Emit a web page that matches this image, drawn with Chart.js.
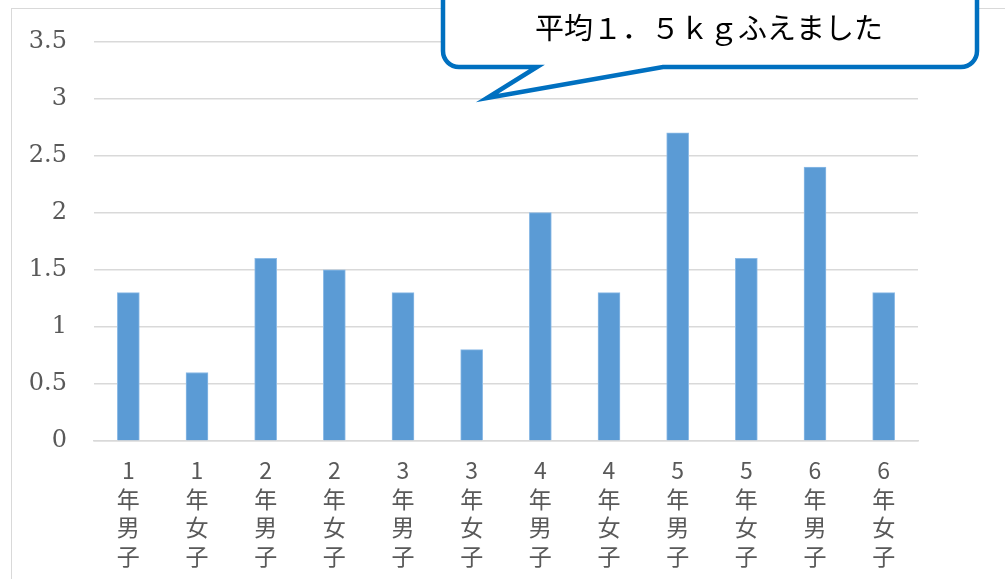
<!DOCTYPE html>
<html><head><meta charset="utf-8">
<script src="https://cdn.jsdelivr.net/npm/chart.js@4/dist/chart.umd.min.js"></script>
<style>html,body{margin:0;padding:0;background:#fff;overflow:hidden}#wrap{width:1005px;height:579px;position:relative}</style>
</head><body><div id="wrap"><canvas id="c" width="1005" height="579"></canvas></div>
<script>
const categories = [
  ['1','年','男','子'], ['1','年','女','子'],
  ['2','年','男','子'], ['2','年','女','子'],
  ['3','年','男','子'], ['3','年','女','子'],
  ['4','年','男','子'], ['4','年','女','子'],
  ['5','年','男','子'], ['5','年','女','子'],
  ['6','年','男','子'], ['6','年','女','子']
];
const values = [1.3, 0.6, 1.6, 1.5, 1.3, 0.8, 2.0, 1.3, 2.7, 1.6, 2.4, 1.3];
const yTicks = [0, 0.5, 1, 1.5, 2, 2.5, 3, 3.5];
const calloutText = '平均１．５ｋｇふえました';

const frame = {
  id: 'frame',
  beforeDraw(chart) {
    const ctx = chart.ctx;
    ctx.save();
    ctx.fillStyle = '#fff';
    ctx.fillRect(0, 0, chart.width, chart.height);
    ctx.strokeStyle = '#d9d9d9';
    ctx.lineWidth = 1;
    ctx.strokeRect(11.5, 8.5, 2000, 2000);
    ctx.restore();
  }
};

const callout = {
  id: 'callout',
  afterDraw(chart) {
    const ctx = chart.ctx;
    const L = 443, R = 977, T = -40, B = 67, r = 16;
    ctx.save();
    ctx.beginPath();
    ctx.moveTo(L + r, T);
    ctx.lineTo(R - r, T);
    ctx.arcTo(R, T, R, T + r, r);
    ctx.lineTo(R, B - r);
    ctx.arcTo(R, B, R - r, B, r);
    ctx.lineTo(663, B);
    ctx.lineTo(487, 98);
    ctx.lineTo(537, B);
    ctx.lineTo(L + r, B);
    ctx.arcTo(L, B, L, B - r, r);
    ctx.lineTo(L, T + r);
    ctx.arcTo(L, T, L + r, T, r);
    ctx.closePath();
    ctx.fillStyle = '#fff';
    ctx.fill();
    ctx.lineWidth = 4.5;
    ctx.lineJoin = 'miter';
    ctx.strokeStyle = '#0070C0';
    ctx.stroke();
    ctx.fillStyle = '#000';
    ctx.font = '29px "Noto Sans CJK JP"';
    ctx.textAlign = 'center';
    ctx.textBaseline = 'middle';
    ctx.fillText(calloutText, 709, 28);
    ctx.restore();
  }
};

new Chart(document.getElementById('c'), {
  type: 'bar',
  data: {
    labels: categories,
    datasets: [{
      data: values,
      backgroundColor: '#5B9BD5',
      borderColor: '#8DBBE6',
      borderWidth: {left: 1, right: 1, top: 1, bottom: 0},
      barThickness: 22
    }]
  },
  options: {
    responsive: false,
    animation: false,
    layout: {padding: {left: 11, right: 87, top: 40, bottom: 0}},
    plugins: {legend: {display: false}, tooltip: {enabled: false}},
    scales: {
      y: {
        min: 0, max: 3.5,
        afterBuildTicks(scale) { scale.ticks = yTicks.map(v => ({value: v})); },
        afterFit(scale) { scale.width = 83; },
        grid: {color: '#d9d9d9', lineWidth: 1.5, drawTicks: false},
        border: {display: false},
        ticks: {
          padding: 27,
          color: '#595959',
          font: {family: '"DejaVu Serif"', size: 24},
          callback: v => String(v)
        }
      },
      x: {
        afterFit(scale) { scale.height = 138; },
        grid: {display: false, drawTicks: false},
        border: {display: true, color: '#d9d9d9', width: 1.5},
        ticks: {
          padding: 15,
          maxRotation: 0,
          autoSkip: false,
          color: '#595959',
          font: {family: '"Noto Sans CJK JP"', size: 23, lineHeight: 1.24}
        }
      }
    }
  },
  plugins: [frame, callout]
});
</script></body></html>
